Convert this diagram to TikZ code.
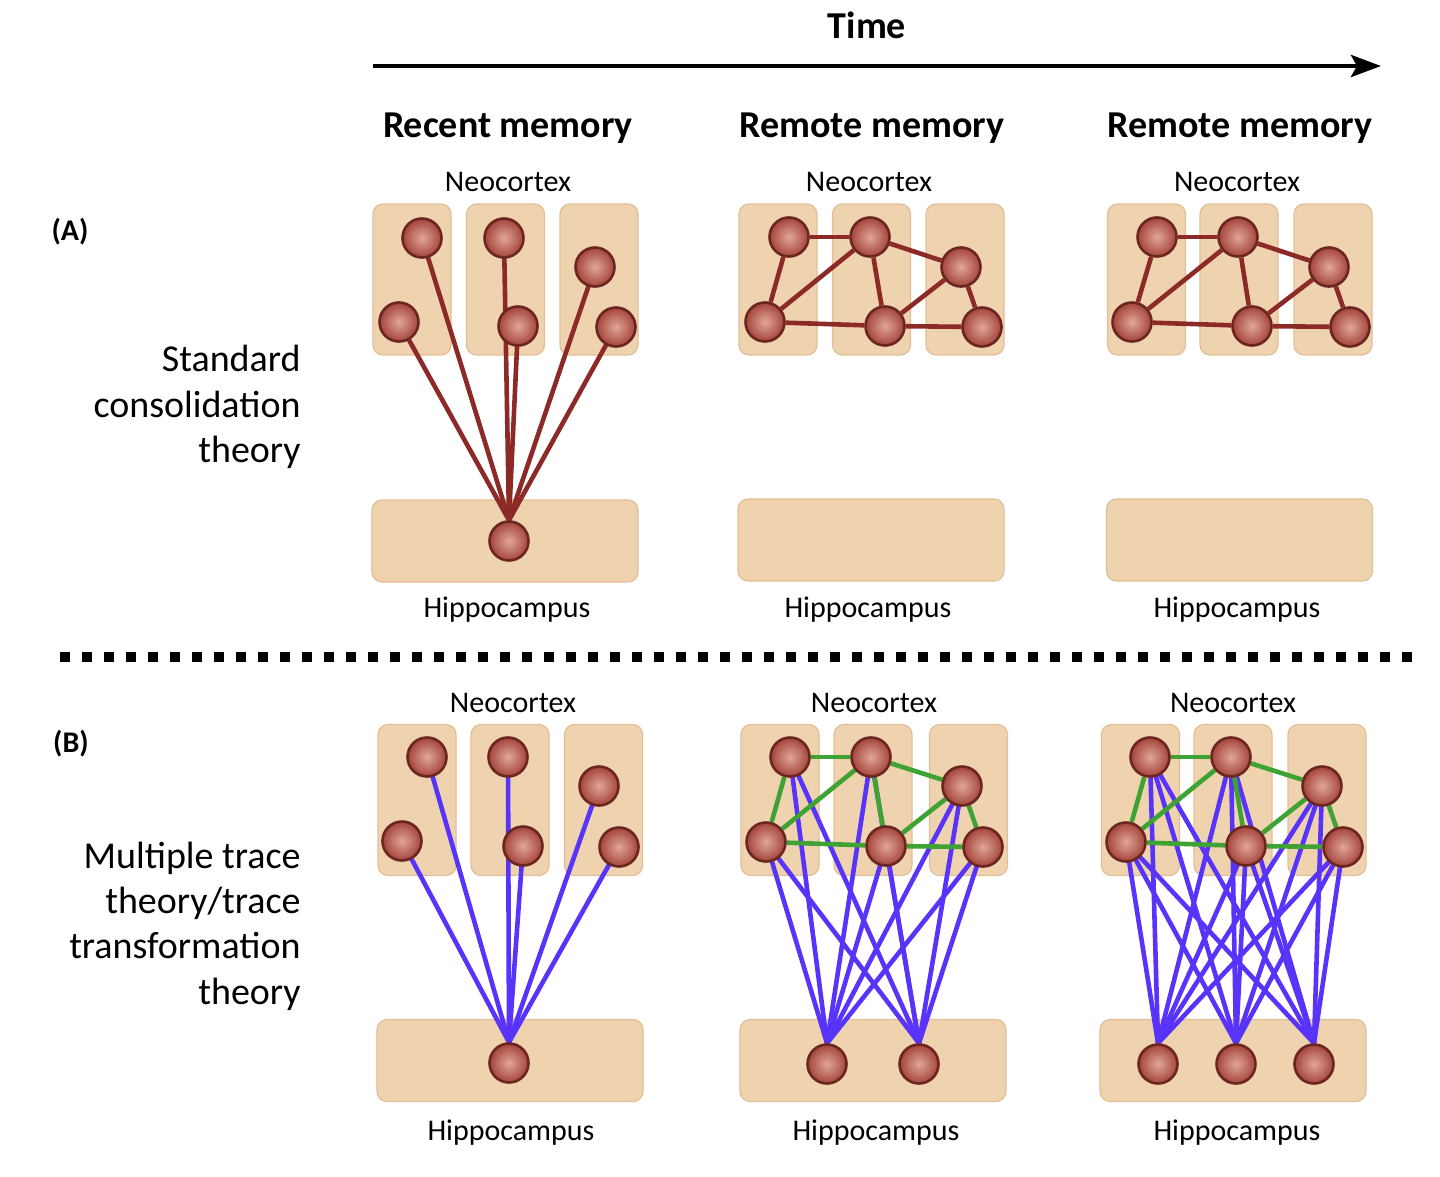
\documentclass[tikz,border=0pt]{standalone}
\usepackage{fontspec}
\setmainfont{Carlito}
\usetikzlibrary{arrows.meta,positioning}

\definecolor{boxfill}{RGB}{239,211,174}
\definecolor{boxline}{RGB}{226,190,152}
\definecolor{neurondark}{RGB}{108,38,34}
\definecolor{neuronmid}{RGB}{164,68,58}
\definecolor{neuronlight}{RGB}{224,166,152}
\definecolor{linkred}{RGB}{140,42,40}
\definecolor{linkblue}{RGB}{88,52,250}
\definecolor{linkgreen}{RGB}{62,162,52}

\pgfdeclarelayer{boxes}
\pgfdeclarelayer{links}
\pgfsetlayers{boxes,links,main}

\tikzset{
  ctxbox/.style={draw=boxline, fill=boxfill, rounded corners=5pt, line width=0.6pt,
    minimum width=39pt, minimum height=75.5pt, inner sep=0pt},
  hipbox/.style={ctxbox, minimum width=133pt, minimum height=41pt},
  neuron/.style={circle, draw=neurondark, line width=1.3pt, inner color=neuronlight,
    outer color=neuronmid, minimum size=19.5pt, inner sep=0pt},
  redlink/.style={draw=linkred, line width=2.3pt},
  bluelink/.style={draw=linkblue, line width=2.3pt},
  greenlink/.style={draw=linkgreen, line width=2.3pt},
  region/.style={font=\fontsize{15}{18}\selectfont},
  heading/.style={font=\fontsize{19}{23}\selectfont\bfseries},
  panel/.style={font=\fontsize{15}{18}\selectfont\bfseries},
  theory/.style={font=\fontsize{19}{22.7}\selectfont, align=right, anchor=east, inner sep=0pt}
}

\begin{document}
\begin{tikzpicture}[x=0.5pt, y=-0.5pt]
\useasboundingbox (0,0) rectangle (1440,1177);

% Time axis
\node[heading] (time) at (867,25) {Time};
\coordinate (tstart) at (373,66);
\coordinate (tend) at (1381,66);
\draw[line width=2.4pt, -{Stealth[length=15pt,width=11pt,inset=3pt]}] (tstart) -- (tend);

% Column headings
\node[heading] (recent) at (508,128) {Recent memory};
\node[heading] (remoteA) at (872,128) {Remote memory};
\node[heading] (remoteB) at (1240,128) {Remote memory};

% Panel labels and theories
\node[panel] (labA) at (70,232) {(A)};
\node[panel] (labB) at (71,744) {(B)};
\node[theory] (sct) at (301,407) {Standard\\consolidation\\theory};
\node[theory] (mtt) at (301,926) {Multiple trace\\theory/trace\\transformation\\theory};

% Separator
\coordinate (sepL) at (60,657);
\coordinate (sepR) at (1412,657);
\draw[line width=5pt, dash pattern=on 5pt off 6pt] (sepL) -- (sepR);

% Region labels
\node[region] (A1ctx) at (508,182) {Neocortex};
\node[region] (A2ctx) at (869,182) {Neocortex};
\node[region] (A3ctx) at (1237,182) {Neocortex};
\node[region] (A1hip) at (507,610) {Hippocampus};
\node[region] (A2hip) at (868,610) {Hippocampus};
\node[region] (A3hip) at (1237,610) {Hippocampus};
\node[region] (B1ctx) at (513,703) {Neocortex};
\node[region] (B2ctx) at (874,703) {Neocortex};
\node[region] (B3ctx) at (1233,703) {Neocortex};
\node[region] (B1hip) at (511,1133) {Hippocampus};
\node[region] (B2hip) at (876,1133) {Hippocampus};
\node[region] (B3hip) at (1237,1133) {Hippocampus};

% Boxes
\begin{pgfonlayer}{boxes}
\foreach \c/\xa/\xb/\xc/\xh/\y/\yh in {A1/412/505.5/599/505/279.5/541,
    A2/778/871.5/965/871/279.5/540, A3/1146.5/1239/1333/1239.5/279.5/540,
    B1/417/510/603.5/510/800/1060.5, B2/780/873/968.5/873/800/1060.5,
    B3/1140.5/1233/1327/1233/800/1060.5} {
  \node[ctxbox] (\c box1) at (\xa,\y) {};
  \node[ctxbox] (\c box2) at (\xb,\y) {};
  \node[ctxbox] (\c box3) at (\xc,\y) {};
  \node[hipbox] (\c hbox) at (\xh,\yh) {};
}
\end{pgfonlayer}

% Neocortex neurons
\foreach \i/\x/\y in {1/422/238, 2/399/322, 3/504/238, 4/518/326, 5/595/267, 6/616/327}
  \node[neuron] (A1n\i) at (\x,\y) {};
\foreach \i/\x/\y in {1/789/237, 2/870/237, 3/961/267, 4/765/322, 5/885/326, 6/982/327}
  \node[neuron] (A2n\i) at (\x,\y) {};
\foreach \i/\x/\y in {1/1157/237, 2/1238/237, 3/1329/267, 4/1132/322, 5/1252/326, 6/1350/327}
  \node[neuron] (A3n\i) at (\x,\y) {};
\foreach \i/\x/\y in {1/427/757, 2/402/841, 3/508/757, 4/523/846, 5/599/786, 6/619/847}
  \node[neuron] (B1n\i) at (\x,\y) {};
\foreach \i/\x/\y in {1/790/757, 2/871/757, 3/962/786, 4/766/842, 5/886/846, 6/983/847}
  \node[neuron] (B2n\i) at (\x,\y) {};
\foreach \i/\x/\y in {1/1150/757, 2/1231/757, 3/1322/786, 4/1126/842, 5/1246/846, 6/1343/847}
  \node[neuron] (B3n\i) at (\x,\y) {};

% Hippocampus neurons
\node[neuron] (A1h) at (509,541) {};
\node[neuron] (B1h) at (509,1063) {};
\node[neuron] (B2h1) at (827,1064) {};
\node[neuron] (B2h2) at (919,1064) {};
\node[neuron] (B3h1) at (1158,1064) {};
\node[neuron] (B3h2) at (1236,1064) {};
\node[neuron] (B3h3) at (1314,1064) {};

% Links
\begin{pgfonlayer}{links}
\foreach \i in {1,...,6} {
  \draw[redlink] (A1n\i.center) -- (A1h.north);
  \draw[bluelink] (B1n\i.center) -- (B1h.north);
  \draw[bluelink] (B2n\i.center) -- (B2h1.north);
  \draw[bluelink] (B2n\i.center) -- (B2h2.north);
  \draw[bluelink] (B3n\i.center) -- (B3h1.north);
  \draw[bluelink] (B3n\i.center) -- (B3h2.north);
  \draw[bluelink] (B3n\i.center) -- (B3h3.north);
}
\foreach \a/\b in {1/2, 1/4, 2/4, 2/5, 2/3, 3/5, 3/6, 4/5, 5/6} {
  \draw[redlink] (A2n\a) -- (A2n\b);
  \draw[redlink] (A3n\a) -- (A3n\b);
  \draw[greenlink] (B2n\a) -- (B2n\b);
  \draw[greenlink] (B3n\a) -- (B3n\b);
}
\end{pgfonlayer}

\end{tikzpicture}
\end{document}
